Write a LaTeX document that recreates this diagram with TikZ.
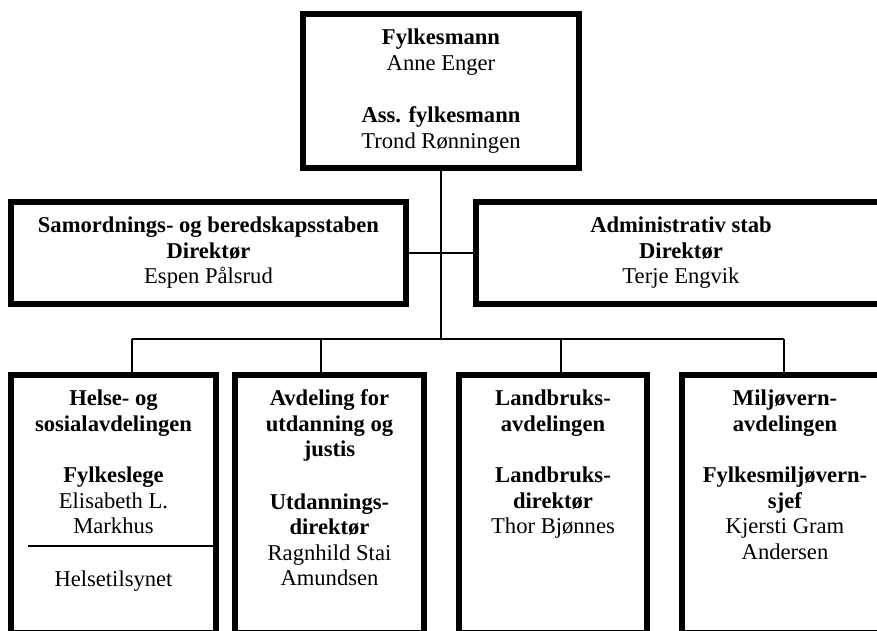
\documentclass[tikz,border=0pt]{standalone}
\usepackage{fontspec}
\setmainfont{Liberation Serif}
\usetikzlibrary{calc}
\tikzset{boks/.style={draw=black,line width=6pt,inner sep=0pt,align=center},
	linje/.style={draw=black,line width=1.3pt}}
\newcommand{\avd}[2]{\parbox[c][228pt][t]{#1}{\centering #2}}

\begin{document}
\begin{tikzpicture}[x=1pt,y=-1pt,font={\fontsize{22.6}{25.5}\selectfont}]
			\clip (0,0) rectangle (877,631);
			\node[boks,minimum width=276pt,minimum height=154pt] (fm) at (441,91) {\textbf{Fylkesmann}\\Anne Enger\\[27pt]\textbf{Ass. fylkesmann}\\Trond Rønningen};
			\node[boks,minimum width=395pt,minimum height=102pt] (sb) at (208.5,253) {\textbf{Samordnings- og beredskapsstaben}\\\textbf{Direktør}\\Espen Pålsrud};
			\node[boks,minimum width=410pt,minimum height=102pt] (as) at (681,253) {\textbf{Administrativ stab}\\\textbf{Direktør}\\Terje Engvik};
			
			\node[boks,minimum width=205pt,minimum height=258pt] (hs) at (113.5,504) {\avd{193pt}{\textbf{Helse- og}\\\textbf{sosialavdelingen}\\[26pt]\textbf{Fylkeslege}\\Elisabeth L.\\Markhus\\[27.5pt]Helsetilsynet}};
			\node[boks,minimum width=189pt,minimum height=258pt] (ut) at (329.5,504) {\avd{177pt}{\textbf{Avdeling for}\\\textbf{utdanning og}\\\textbf{justis}\\[27pt]\textbf{Utdannings-}\\\textbf{direktør}\\Ragnhild Stai\\Amundsen}};
			\node[boks,minimum width=188pt,minimum height=258pt] (lb) at (553,504) {\avd{176pt}{\textbf{Landbruks-}\\\textbf{avdelingen}\\[26pt]\textbf{Landbruks-}\\\textbf{direktør}\\Thor Bjønnes}};
			\node[boks,minimum width=206pt,minimum height=258pt] (mv) at (785,504) {\avd{194pt}{\textbf{Miljøvern-}\\\textbf{avdelingen}\\[26pt]\textbf{Fylkesmiljøvern-}\\\textbf{sjef}\\Kjersti Gram\\Andersen}};
			
			\coordinate (bus) at (441,339);
			\coordinate (d1) at (132,339);
			\coordinate (d2) at (321,339);
			\coordinate (d3) at (561,339);
			\coordinate (d4) at (784,339);
			\draw[linje] (fm.south) -- (bus);
			\draw[linje] (sb.east) -- (as.west);
			\draw[linje] (d1) -- (d4);
			\foreach \d/\b in {d1/hs,d2/ut,d3/lb,d4/mv}
				\draw[linje] (\d) -- (\d |- \b.north);
			
			\coordinate (skille) at (28,546);
			\draw[linje] (skille) -- (skille -| hs.east);
		\end{tikzpicture}
\end{document}
